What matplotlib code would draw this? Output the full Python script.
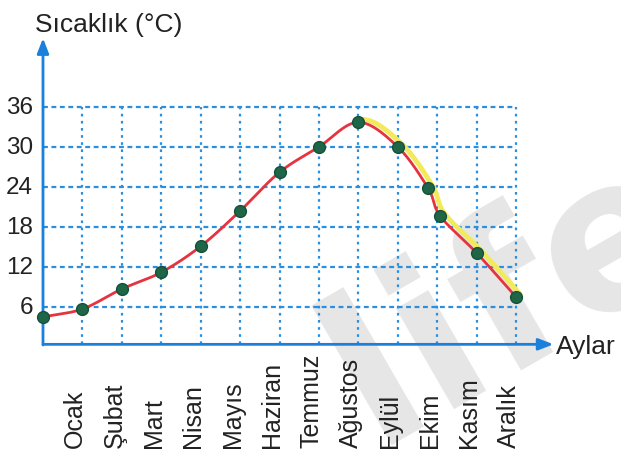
import numpy as np
import matplotlib
matplotlib.use("Agg")
import matplotlib.pyplot as plt
import matplotlib.transforms as mtransforms

plt.rcParams['font.family'] = ['Liberation Sans', 'DejaVu Sans']

# ---- data ----
months = ["Ocak", "Şubat", "Mart", "Nisan", "Mayıs", "Haziran", "Temmuz",
          "Ağustos", "Eylül", "Ekim", "Kasım", "Aralık"]
month_pos = [1, 2, 3, 4, 5, 6, 7, 8, 9, 10, 11, 12]
point_x = [0, 1, 2, 3, 4, 5, 6, 7, 8, 9, 9.77, 10.08, 11, 12]
point_y = [4.5, 5.7, 8.7, 11.2, 15.1, 20.4, 26.2, 30.0, 33.7, 30.0, 23.8, 19.6, 14.1, 7.5]
y_ticks = [6, 12, 18, 24, 30, 36]
y_label = "Sıcaklık (°C)"
x_label = "Aylar"
watermark = "life"

W, H, DPI = 621, 456, 100
fig = plt.figure(figsize=(W / DPI, H / DPI), dpi=DPI)
ax = fig.add_axes([0, 0, 1, 1])
# pixel mapping: x=0 at 43px, 39.42 px/unit ; y=0 at 348px from top, 6.67 px/unit
ax.set_xlim(-43 / 39.42, (W - 43) / 39.42)
ax.set_ylim((348 - H) / 6.67, 348 / 6.67)
ax.axis('off')

# faint watermark
ax.text((374 - 43) / 39.42, (348 - 445) / 6.67, watermark, rotation=30,
        rotation_mode='anchor', ha='left', va='baseline', fontsize=153,
        fontweight='bold', family='DejaVu Sans', color='#e6e6e6', zorder=0)

grid_c = '#2b8fe0'
axis_c = '#1a80dc'
xmax = month_pos[-1]
ymax = y_ticks[-1]
axis_y = 0.4

# grid
for yv in y_ticks:
    ax.plot([0, xmax], [yv, yv], color=grid_c, lw=1.6, ls=(0, (2.2, 1.6)), zorder=1)
for xv in month_pos:
    ax.plot([xv, xv], [axis_y, ymax], color=grid_c, lw=1.6, ls=(0, (1.2, 2.0)), zorder=1)

# axes with arrows
ax.annotate('', xy=(12.95, axis_y), xytext=(0, axis_y),
            arrowprops=dict(arrowstyle='-|>,head_length=0.9,head_width=0.35',
                            color=axis_c, lw=2, shrinkA=0, shrinkB=0), zorder=2)
ax.annotate('', xy=(0, 46.3), xytext=(0, axis_y - 0.1),
            arrowprops=dict(arrowstyle='-|>,head_length=0.9,head_width=0.35',
                            color=axis_c, lw=2, shrinkA=0, shrinkB=0), zorder=2)

# smooth curve (Catmull-Rom through the data points)
px = np.array(point_x, float)
py = np.array(point_y, float)
P = np.column_stack([px, py])
Pp = np.vstack([P[0] - (P[1] - P[0]), P, P[-1] + (P[-1] - P[-2])])
curve = []
for i in range(1, len(Pp) - 2):
    p0, p1, p2, p3 = Pp[i - 1], Pp[i], Pp[i + 1], Pp[i + 2]
    t = np.linspace(0, 1, 30)[:, None]
    seg = 0.5 * ((2 * p1) + (-p0 + p2) * t + (2 * p0 - 5 * p1 + 4 * p2 - p3) * t ** 2
                 + (-p0 + 3 * p1 - 3 * p2 + p3) * t ** 3)
    curve.append(seg if i == 1 else seg[1:])
curve = np.vstack(curve)

# yellow highlight on the descending part
start = point_x[8]
mask = curve[:, 0] >= start
off = mtransforms.ScaledTranslation(3 / 72, 2 / 72, fig.dpi_scale_trans)
ax.plot(curve[mask, 0], curve[mask, 1], color='#f2ea5a', lw=3.5,
        transform=ax.transData + off, zorder=3, solid_capstyle='round')
ax.plot(curve[:, 0], curve[:, 1], color='#e5333f', lw=2.0, zorder=4)
ax.plot(px, py, 'o', color='#1f6648', markeredgecolor='#15503a', markersize=8.5, zorder=5)

# tick labels
for yv in y_ticks:
    ax.text(-0.25, yv, str(yv), ha='right', va='center', fontsize=17.5, color='#222222')
for xv, m in zip(month_pos, months):
    ax.text(xv - 0.19, -15.0, m, rotation=90, ha='center', va='bottom',
            fontsize=18, color='#222222')

ax.text(-0.2, 47.4, y_label, ha='left', va='baseline', fontsize=19, color='#222222')
ax.text(13.0, 0.4 - 1.3, x_label, ha='left', va='baseline', fontsize=19, color='#222222')

fig.savefig('out.png', dpi=DPI)
